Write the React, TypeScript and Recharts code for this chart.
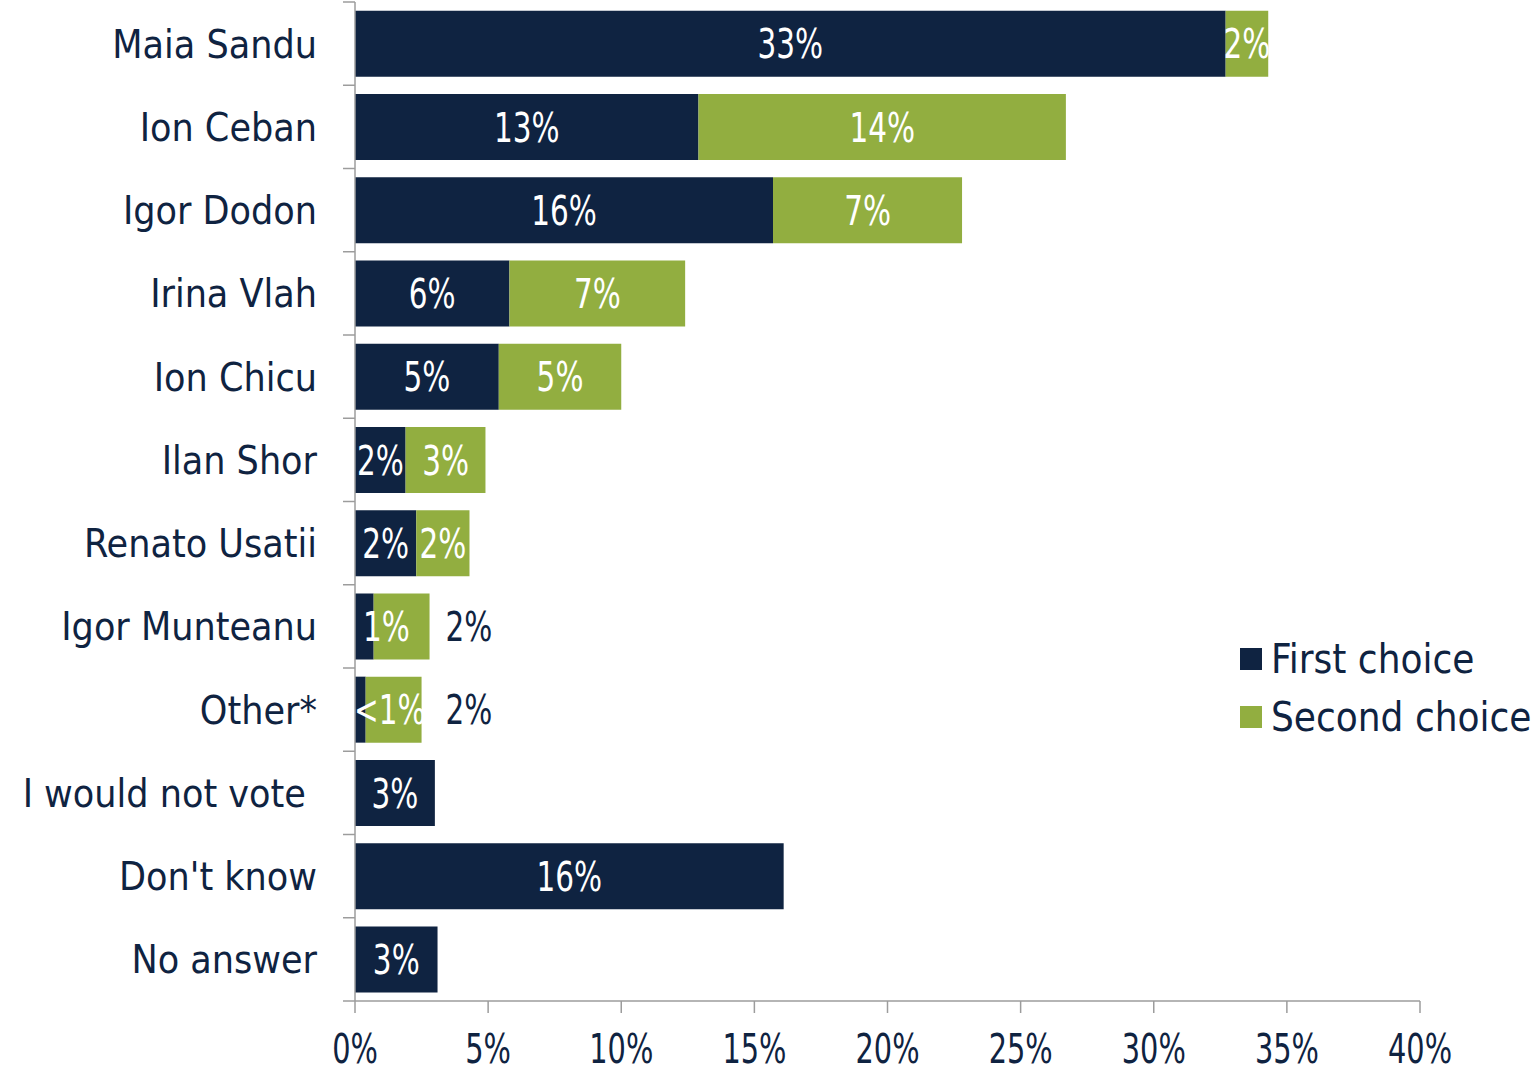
import React from 'react';
import { BarChart, Bar, XAxis, YAxis, Legend, LabelList } from 'recharts';

const categories = [
  'Maia Sandu',
  'Ion Ceban',
  'Igor Dodon',
  'Irina Vlah',
  'Ion Chicu',
  'Ilan Shor',
  'Renato Usatii',
  'Igor Munteanu',
  'Other*',
  'I would not vote ',
  "Don't know",
  'No answer',
];
const firstChoice = [32.7, 12.9, 15.7, 5.8, 5.4, 1.9, 2.3, 0.7, 0.4, 3.0, 16.1, 3.1];
const secondChoice = [1.6, 13.8, 7.1, 6.6, 4.6, 3.0, 2.0, 2.1, 2.1, null, null, null];
const firstLabels = ['33%', '13%', '16%', '6%', '5%', '2%', '2%', '1%', '<1%', '3%', '16%', '3%'];
const secondLabels = ['2%', '14%', '7%', '7%', '5%', '3%', '2%', '2%', '2%', '', '', ''];
const xTicks = [0, 5, 10, 15, 20, 25, 30, 35, 40];

const data = categories.map((name, i) => ({
  name,
  first: firstChoice[i],
  second: secondChoice[i],
  firstLabel: firstLabels[i],
  secondLabel: secondLabels[i],
}));

// styling
const NAVY = '#0F2341';
const GREEN = '#92AE40';
const AXIS = '#9C9C9C';
const TEXT_FONT = '"DejaVu Sans Condensed", "DejaVu Sans", sans-serif';
const W = 1535;
const H = 1072;
const MARGIN = { top: 2, right: 115, bottom: 0, left: 0 };
const X_AXIS_H = 71;
const PLOT_H = H - MARGIN.top - MARGIN.bottom - X_AXIS_H;
const TICK_SIZE = 12;
const TICK_MARGIN = 26;
const NUM_SIZE = 41;
const NUM_SCALE = 0.8;

// label placement tweaks (styling)
const firstStartOffset: Record<string, number> = { 'Igor Munteanu': 8, 'Other*': -1 };
const secondOutsideOffset: Record<string, number> = { 'Igor Munteanu': 16, 'Other*': 24 };

// Narrow numeric text: condensed face squeezed horizontally
const NumText = ({ x, y, anchor, fill, size = NUM_SIZE, dy = '0.36em', children }: any) => (
  <text
    transform={`translate(${x},${y}) scale(${NUM_SCALE},1)`}
    x={0}
    y={0}
    dy={dy}
    textAnchor={anchor}
    fontFamily={TEXT_FONT}
    fontSize={size}
    fill={fill}
  >
    {children}
  </text>
);

const YTick = (props: any) => {
  const { x, y, payload, index } = props;
  const band = PLOT_H / categories.length;
  const axisX = x + TICK_SIZE + TICK_MARGIN;
  return (
    <g>
      <line x1={axisX - TICK_SIZE} x2={axisX} y1={y - band / 2} y2={y - band / 2} stroke={AXIS} strokeWidth={1.5} />
      {index === categories.length - 1 && (
        <line x1={axisX - TICK_SIZE} x2={axisX} y1={y + band / 2} y2={y + band / 2} stroke={AXIS} strokeWidth={1.5} />
      )}
      <text
        x={x}
        y={y}
        dy="0.36em"
        textAnchor="end"
        xmlSpace="preserve"
        style={{ whiteSpace: 'pre' }}
        fontFamily={TEXT_FONT}
        fontSize={39}
        fill={NAVY}
      >
        {payload.value}
      </text>
    </g>
  );
};

const XTick = (props: any) => {
  const { x, y, payload } = props;
  return (
    <NumText x={x} y={y} anchor="middle" fill={NAVY} size={40} dy="0.73em">
      {`${payload.value}%`}
    </NumText>
  );
};

const getBox = (props: any) => {
  const vb = props.viewBox && props.viewBox.width !== undefined ? props.viewBox : props;
  return { x: Number(vb.x), y: Number(vb.y), width: Number(vb.width), height: Number(vb.height) };
};

const FirstLabel = (props: any) => {
  const { value, index } = props;
  if (!value) return null;
  const { x, y, width, height } = getBox(props);
  const name = categories[index];
  const cy = y + height / 2;
  if (name in firstStartOffset) {
    return (
      <NumText x={x + firstStartOffset[name]} y={cy} anchor="start" fill="#fff">
        {value}
      </NumText>
    );
  }
  return (
    <NumText x={x + width / 2} y={cy} anchor="middle" fill="#fff">
      {value}
    </NumText>
  );
};

const SecondLabel = (props: any) => {
  const { value, index } = props;
  if (!value) return null;
  const { x, y, width, height } = getBox(props);
  const name = categories[index];
  const cy = y + height / 2;
  if (name in secondOutsideOffset) {
    return (
      <NumText x={x + width + secondOutsideOffset[name]} y={cy} anchor="start" fill={NAVY}>
        {value}
      </NumText>
    );
  }
  return (
    <NumText x={x + width / 2} y={cy} anchor="middle" fill="#fff">
      {value}
    </NumText>
  );
};

const renderLegend = (props: any) => {
  const { payload } = props;
  return (
    <div>
      {(payload || []).map((entry: any) => (
        <div key={entry.value} style={{ display: 'flex', alignItems: 'center', height: 58 }}>
          <div style={{ width: 22, height: 22, background: entry.color, marginRight: 9, flex: '0 0 auto' }} />
          <span style={{ fontFamily: TEXT_FONT, fontSize: 40, color: NAVY, lineHeight: '58px', whiteSpace: 'nowrap' }}>
            {entry.value}
          </span>
        </div>
      ))}
    </div>
  );
};

export default function App() {
  return (
    <div style={{ position: 'absolute', left: 0, top: 0, width: W, height: H, background: '#fff' }}>
      <BarChart width={W} height={H} data={data} layout="vertical" margin={MARGIN} barCategoryGap="10.4%">
        <XAxis
          type="number"
          domain={[0, 40]}
          ticks={xTicks}
          interval={0}
          height={X_AXIS_H}
          axisLine={{ stroke: AXIS, strokeWidth: 1.5 }}
          tickLine={{ stroke: AXIS, strokeWidth: 1.5 }}
          tickSize={12}
          tickMargin={21}
          tick={<XTick />}
        />
        <YAxis
          type="category"
          dataKey="name"
          width={355}
          interval={0}
          axisLine={{ stroke: AXIS, strokeWidth: 1.5 }}
          tickLine={false}
          tickSize={TICK_SIZE}
          tickMargin={TICK_MARGIN}
          tick={<YTick />}
        />
        <Legend
          layout="vertical"
          align="center"
          verticalAlign="middle"
          content={renderLegend}
          wrapperStyle={{ position: 'absolute', left: 1240, top: 630, width: 295, height: 116 }}
        />
        <Bar dataKey="first" name="First choice" stackId="a" fill={NAVY} isAnimationActive={false}>
          <LabelList dataKey="firstLabel" content={<FirstLabel />} />
        </Bar>
        <Bar dataKey="second" name="Second choice" stackId="a" fill={GREEN} isAnimationActive={false}>
          <LabelList dataKey="secondLabel" content={<SecondLabel />} />
        </Bar>
      </BarChart>
    </div>
  );
}
